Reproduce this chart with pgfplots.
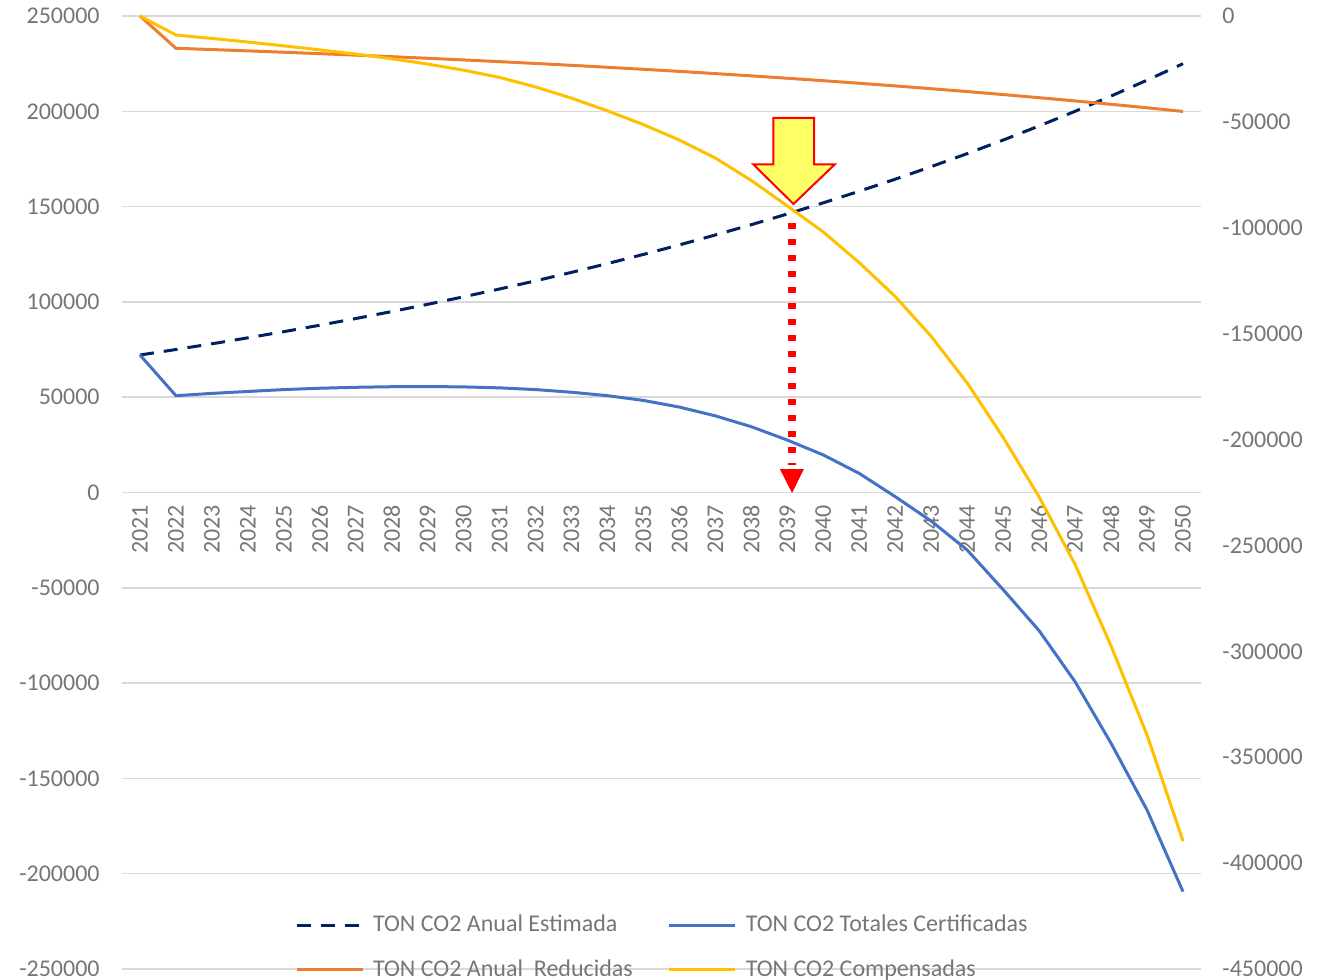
\documentclass[border=0pt]{standalone}
\usepackage{fontspec}
\setmainfont{Carlito}
\usepackage{pgfplots}
\pgfplotsset{compat=1.18}
\definecolor{cnavy}{HTML}{002060}
\definecolor{cblue}{HTML}{4472C4}
\definecolor{corange}{HTML}{ED7D31}
\definecolor{cyellow}{HTML}{FFC000}
\definecolor{cgrid}{HTML}{D9D9D9}
\definecolor{ctext}{HTML}{767676}
\definecolor{cfill}{HTML}{FFFF66}
\begin{document}
\begin{tikzpicture}
\pgfplotsset{
  every axis/.append style={
    scale only axis, width=539.5pt, height=476.5pt,
    xmin=2020.5, xmax=2050.5, enlargelimits=false, clip=false,
    major tick length=0pt, minor tick num=0,
    tick style={draw=none},
    ticklabel style={font=\fontsize{12}{14}\selectfont, text=ctext},
    scaled y ticks=false,
    hide obscured x ticks=false, hide obscured y ticks=false,
  }
}
\begin{axis}[
  axis x line=middle, axis y line=left, axis line style={draw=none},
  ymin=-250000, ymax=250000, ytick={-250000,-200000,...,250000},
  yticklabels={-250000,-200000,-150000,-100000,-50000,0,50000,100000,150000,200000,250000},
  ymajorgrids, grid style={cgrid, line width=0.75pt},
  xtick={2021,2022,...,2050},
  xticklabels={2021,2022,2023,2024,2025,2026,2027,2028,2029,2030,2031,2032,2033,2034,2035,2036,2037,2038,2039,2040,2041,2042,2043,2044,2045,2046,2047,2048,2049,2050},
  xticklabel style={rotate=90, anchor=east, inner sep=0pt, xshift=-6pt},
  yticklabel style={anchor=east, inner sep=0pt, xshift=-11pt},
]
\addplot[cnavy, line width=1.5pt, dash pattern=on 7pt off 5pt] table {
2021 72140
2022 75026
2023 78027
2024 81148
2025 84394
2026 87770
2027 91281
2028 94932
2029 98729
2030 102678
2031 106785
2032 111057
2033 115499
2034 120119
2035 124924
2036 129921
2037 135118
2038 140523
2039 146144
2040 151990
2041 158069
2042 164392
2043 170968
2044 177807
2045 184919
2046 192316
2047 200008
2048 208009
2049 216329
2050 224982
};
\addplot[cblue, line width=1.5pt] table {
2021 72140
2022 50800
2023 52000
2024 53000
2025 54000
2026 54700
2027 55200
2028 55500
2029 55600
2030 55400
2031 54900
2032 54000
2033 52600
2034 50800
2035 48300
2036 44800
2037 40200
2038 34500
2039 27500
2040 19700
2041 10000
2042 -2200
2043 -15000
2044 -30200
2045 -51000
2046 -72500
2047 -99300
2048 -131600
2049 -166600
2050 -209400
};
\end{axis}
\begin{axis}[
  axis x line=none, axis y line*=right, axis line style={draw=none},
  ymin=-450000, ymax=0, ytick={-450000,-400000,...,0},
  yticklabels={-450000,-400000,-350000,-300000,-250000,-200000,-150000,-100000,-50000,0},
  yticklabel style={anchor=west, inner sep=0pt, xshift=10.5pt},
  legend columns=2,
  legend cell align=left,
  legend style={draw=none, fill=none, at={(0.504,0)}, anchor=south, yshift=-12pt,
    font=\fontsize{12}{14}\selectfont, text=ctext,
    /tikz/every even column/.append style={column sep=13pt},
    row sep=3.5pt, nodes={inner sep=4.5pt}},
  legend image code/.code={\draw[#1] (0pt,0pt) -- (33pt,0pt);},
]
\addlegendimage{cnavy, line width=1.5pt, dash pattern=on 7pt off 5pt}
\addlegendentry{TON CO2 Anual Estimada}
\addlegendimage{cblue, line width=1.5pt}
\addlegendentry{TON CO2 Totales Certificadas}
\addplot[corange, line width=1.5pt] table {
2021 0
2022 -15250
2023 -15847
2024 -16467
2025 -17113
2026 -17785
2027 -18483
2028 -19208
2029 -19963
2030 -20749
2031 -21566
2032 -22415
2033 -23299
2034 -24217
2035 -25173
2036 -26167
2037 -27199
2038 -28275
2039 -29393
2040 -30555
2041 -31763
2042 -33021
2043 -34330
2044 -35689
2045 -37103
2046 -38574
2047 -40104
2048 -41696
2049 -43350
2050 -45071
};
\addlegendentry{TON CO2 Anual\ \ Reducidas}
\addplot[cyellow, line width=1.5pt] table {
2021 0
2022 -9000
2023 -10600
2024 -12300
2025 -14100
2026 -16000
2027 -18000
2028 -20200
2029 -22700
2030 -25600
2031 -29000
2032 -33500
2033 -38800
2034 -44800
2035 -51300
2036 -58600
2037 -67100
2038 -77700
2039 -89700
2040 -102000
2041 -116500
2042 -132500
2043 -151300
2044 -173300
2045 -199000
2046 -227100
2047 -259000
2048 -297500
2049 -339500
2050 -389600
};
\addlegendentry{TON CO2 Compensadas}
% block arrow annotation
\draw[red, line width=1pt, fill=cfill, line join=miter]
  (axis cs:2038.61,-48164) -- (axis cs:2039.74,-48164) -- (axis cs:2039.74,-70027)
  -- (axis cs:2040.32,-70027) -- (axis cs:2039.17,-88774) -- (axis cs:2038.05,-70027)
  -- (axis cs:2038.61,-70027) -- cycle;
% dotted red arrow
\draw[red, line width=3.6pt, dash pattern=on 3pt off 5pt]
  (axis cs:2039.13,-97745) -- (axis cs:2039.13,-212000);
\fill[red] (axis cs:2038.79,-213907) -- (axis cs:2039.46,-213907) -- (axis cs:2039.13,-225239) -- cycle;
\end{axis}
\pgfresetboundingbox
\path[use as bounding box] (-61pt,-5.25pt) rectangle (605pt,484.5pt);
\end{tikzpicture}
\end{document}
